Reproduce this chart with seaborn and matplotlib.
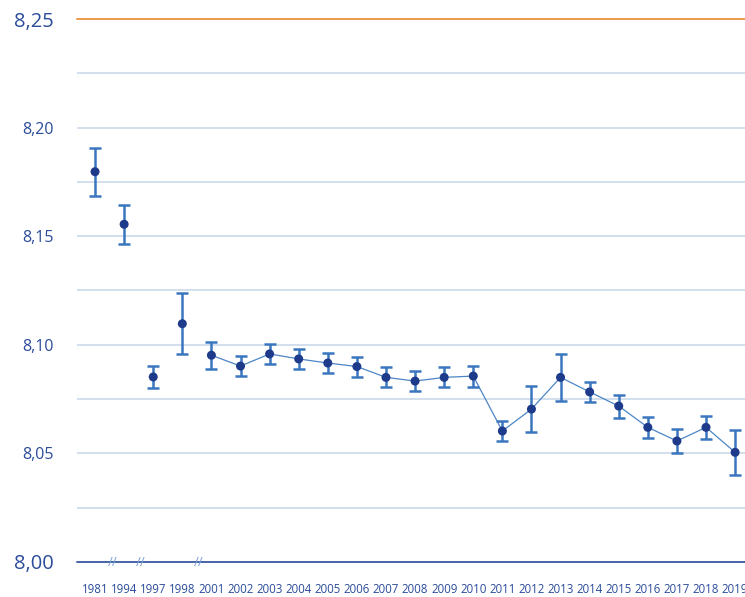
import matplotlib
matplotlib.use("Agg")
import matplotlib.pyplot as plt
import seaborn as sns
import pandas as pd
import numpy as np

# Daten: Jahre (Kategorien), Mittelwerte und Fehlerbalken
jahre = ["1981", "1994", "1997", "1998", "2001", "2002", "2003", "2004", "2005",
         "2006", "2007", "2008", "2009", "2010", "2011", "2012", "2013", "2014",
         "2015", "2016", "2017", "2018", "2019"]
werte = [8.1797, 8.1555, 8.0852, 8.1097, 8.0952, 8.0902, 8.0958, 8.0935, 8.0916,
         8.0900, 8.0850, 8.0833, 8.0850, 8.0856, 8.0603, 8.0704, 8.0850, 8.0783,
         8.0718, 8.0620, 8.0557, 8.0620, 8.0505]
fehler = [0.0110, 0.0090, 0.0050, 0.0140, 0.0062, 0.0046, 0.0046, 0.0046, 0.0046,
          0.0046, 0.0046, 0.0046, 0.0046, 0.0048, 0.0048, 0.0107, 0.0108, 0.0046,
          0.0053, 0.0048, 0.0055, 0.0052, 0.0103]
verbunden_ab = "2001"  # ab diesem Jahr Linie zwischen den Punkten

y_ticks = [8.00, 8.05, 8.10, 8.15, 8.20, 8.25]
y_labels = ["8,00", "8,05", "8,10", "8,15", "8,20", "8,25"]

df = pd.DataFrame({"jahr": jahre, "wert": werte, "fehler": fehler})
df["pos"] = np.arange(len(df))

textfarbe = "#2B4C9B"
sns.set_style("white")
plt.rcParams["font.family"] = ["Open Sans", "DejaVu Sans"]

fig = plt.figure(figsize=(7.45, 5.97), dpi=100)
ax = fig.add_axes([77 / 745, 1 - 562 / 597, 1 - 77 / 745, 543 / 597])

# Gitterlinien
for g in np.arange(8.025, 8.24, 0.025):
    ax.axhline(g, color="#C8D6EA", lw=1.1, zorder=0)
ax.axhline(8.25, color="#EE9A4D", lw=1.4, zorder=1, clip_on=False)
ax.axhline(8.00, color="#4563A8", lw=1.4, zorder=1, clip_on=False)

# Linie ab 2001
start = jahre.index(verbunden_ab)
sns.lineplot(data=df.iloc[start:], x="pos", y="wert", color="#4C86C6", lw=0.9,
             ax=ax, zorder=2, legend=False)

# Fehlerbalken
ax.errorbar(df["pos"], df["wert"], yerr=df["fehler"], fmt="none",
            ecolor="#3A76BE", elinewidth=1.8, capsize=4, capthick=1.8, zorder=3)

# Punkte
sns.scatterplot(data=df, x="pos", y="wert", color="#1E3A8A", s=42,
                edgecolor="none", ax=ax, zorder=4, legend=False)

# Achsenbruch-Markierungen
for xb in [0.62, 1.58, 3.58]:
    ax.text(xb, 8.0, "//", color="#7DA2D6", fontsize=9.5, ha="center", va="center",
            zorder=5)

ax.set_xlim(-0.62, 22.34)
ax.set_ylim(8.00, 8.25)
ax.set_xticks(df["pos"])
ax.set_xticklabels(jahre, fontsize=8.3, color=textfarbe)
ax.set_yticks(y_ticks)
ax.set_yticklabels(y_labels, color=textfarbe)
for lbl, t in zip(ax.get_yticklabels(), y_ticks):
    lbl.set_fontsize(14.5 if t in (8.00, 8.25) else 11.5)
ax.tick_params(axis="y", length=0, pad=17)
ax.tick_params(axis="x", length=0, pad=15)
ax.set_xlabel("")
ax.set_ylabel("")
for s in ax.spines.values():
    s.set_visible(False)

fig.savefig("out.png", dpi=100)
